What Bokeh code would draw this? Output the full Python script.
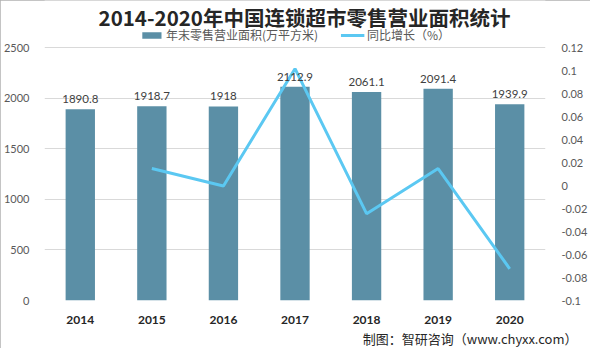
from bokeh.plotting import figure
from bokeh.models import (Range1d, LinearAxis, FixedTicker, CustomJSTickFormatter,
                          ColumnDataSource, LabelSet, Label, Legend, LegendItem, FactorRange, Title)
from bokeh.embed import file_html
from bokeh.resources import INLINE
from bokeh.core.properties import value

years = ["2014", "2015", "2016", "2017", "2018", "2019", "2020"]
area = [1890.8, 1918.7, 1918.0, 2112.9, 2061.1, 2091.4, 1939.9]
growth_years = ["2015", "2016", "2017", "2018", "2019", "2020"]
growth = [0.0148, -0.0004, 0.1016, -0.0245, 0.0147, -0.0724]
left_ticks = [0, 500, 1000, 1500, 2000, 2500]
right_ticks = [-0.1, -0.08, -0.06, -0.04, -0.02, 0, 0.02, 0.04, 0.06, 0.08, 0.1, 0.12]

title_text = "2014-2020年中国连锁超市零售营业面积统计"
bar_name = "年末零售营业面积(万平方米)"
line_name = "同比增长（%）"
footer_text = "制图：智研咨询（www.chyxx.com）"

BAR = "#5B8FA6"
LINE = "#5BC8F2"
CJK = "Noto Sans CJK SC"
NUM = "Lato"

W, H = 590, 348
ML, MR, MT, MB = 33, 37, 0, 48
FH = H - MT - MB            # frame height in px
TOP_PX = 47                 # px from frame top down to the 2500 gridline
AXIS_PX = FH - TOP_PX       # px between the 0 and 2500 gridlines
L0, L1 = 0, 2500
R0, R1 = -0.1, 0.12
ltop = L1 + TOP_PX * (L1 - L0) / AXIS_PX
rtop = R1 + TOP_PX * (R1 - R0) / AXIS_PX

p = figure(width=W, height=H, x_range=FactorRange(*years), y_range=Range1d(L0, ltop),
           output_backend="svg", toolbar_location=None, title=None,
           min_border_left=ML, min_border_right=MR, min_border_top=MT, min_border_bottom=MB)
p.extra_y_ranges = {"pct": Range1d(R0, rtop)}
p.outline_line_color = None
p.background_fill_color = "white"
p.border_fill_color = "white"
p.styles = {"outline": "1px solid #B0B0B0", "outline-offset": "-1px"}

src = ColumnDataSource(dict(x=years, y=area, t=[f"{v:g}" for v in area]))
bars = p.vbar(x="x", top="y", width=0.41, source=src, fill_color=BAR, line_color=None)
lsrc = ColumnDataSource(dict(x=growth_years, y=growth))
line = p.line(x="x", y="y", source=lsrc, y_range_name="pct", line_color=LINE, line_width=3)

p.add_layout(LabelSet(x="x", y="y", text="t", source=src, y_offset=6,
                      text_align="center", text_baseline="bottom",
                      text_font=value(NUM), text_font_size="11.5px", text_color="#404040"))

# axes
p.yaxis.ticker = FixedTicker(ticks=left_ticks)
ra = LinearAxis(y_range_name="pct", ticker=FixedTicker(ticks=right_ticks),
                formatter=CustomJSTickFormatter(code="return String(Math.round(tick*100)/100);"))
p.add_layout(ra, "right")
for ax in [p.yaxis[0], ra, p.xaxis[0]]:
    ax.axis_line_color = None
    ax.major_tick_line_color = None
    ax.minor_tick_line_color = None
    ax.major_label_text_font = NUM
    ax.major_label_text_font_size = "11px"
    ax.major_label_text_color = "#595959"
p.yaxis[0].major_label_standoff = 9
ra.major_label_standoff = 10
p.xaxis.major_label_text_font_style = "bold"
p.xaxis.major_label_text_color = "#262626"
p.xaxis.major_label_text_font_size = "12px"
p.xaxis.major_label_standoff = 9

p.xgrid.visible = False
p.ygrid.grid_line_color = "#D9D9D9"
p.ygrid.grid_line_width = 1

legend = Legend(items=[LegendItem(label=bar_name, renderers=[bars]),
                       LegendItem(label=line_name, renderers=[line])],
                orientation="horizontal", location="top_center",
                glyph_width=24, glyph_height=8, label_standoff=3, spacing=22,
                padding=2, margin=26, border_line_color=None, background_fill_alpha=0,
                label_text_font=CJK, label_text_font_size="12px", label_text_color="#595959")
p.add_layout(legend)

p.add_layout(Label(x=(W - ML - MR) / 2, y=FH - 16, x_units="screen", y_units="screen",
                   text=title_text, text_align="center", text_baseline="middle",
                   text_font=CJK, text_font_size="20.5px", text_font_style="bold",
                   text_color="#262626"))

p.add_layout(Title(text=footer_text, align="right", text_font=CJK, text_font_size="13px",
                   text_font_style="normal", text_color="#262626", standoff=0, offset=-32),
             "below")

open("out.html", "w").write(file_html(p, INLINE))
